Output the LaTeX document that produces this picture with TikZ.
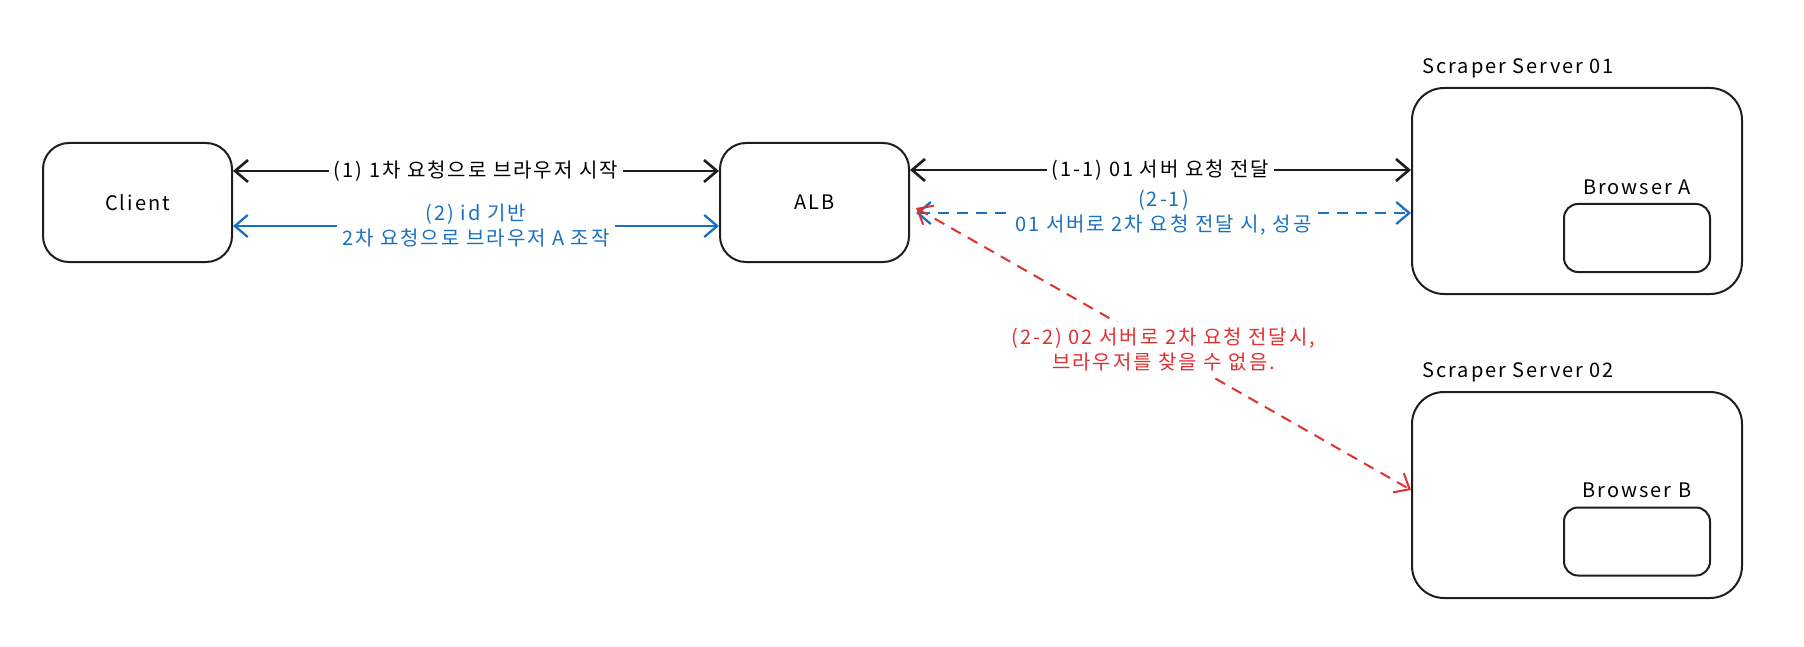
\documentclass[tikz,border=0pt]{standalone}
\usepackage{fontspec}
\setmainfont[LetterSpace=10]{Noto Sans CJK KR}
\usetikzlibrary{arrows.meta,positioning}
\definecolor{inkblack}{HTML}{1E1E1E}
\definecolor{inkblue}{HTML}{1971C2}
\definecolor{inkred}{HTML}{E03131}

\begin{document}
\begin{tikzpicture}[
  x=1pt, y=-1pt,
  font=\fontsize{20}{25}\selectfont,
  box/.style={rectangle, draw=inkblack, line width=2pt, rounded corners=26pt,
    minimum width=189pt, minimum height=119pt},
  server/.style={rectangle, draw=inkblack, line width=2pt, rounded corners=32pt,
    minimum width=330pt, minimum height=206pt},
  brwbox/.style={rectangle, draw=inkblack, line width=2pt, rounded corners=14pt,
    minimum width=146pt, minimum height=68pt},
  conn/.style={{Straight Barb[length=13pt,width=22pt]}-{Straight Barb[length=13pt,width=22pt]},
    line width=2.6pt, draw=inkblack},
  blueconn/.style={conn, line width=2.3pt, draw=inkblue},
  redconn/.style={conn, line width=2pt, draw=inkred},
  dashline/.style={dash pattern=on 11pt off 8pt},
  tag/.style={fill=white, inner sep=5pt, align=center},
]
  \useasboundingbox (0,0) rectangle (1804,647);

  \node[box] (client) at (137.5,202.5) {Client};
  \node[box, right=486pt of client] (alb) {ALB};

  \node[server] (srv1) at (1577,191) {};
  \node[server] (srv2) at (1577,495) {};
  \node[anchor=west] (srv1lbl) at ([xshift=8pt,yshift=19pt]srv1.north west) {Scraper Server 01};
  \node[anchor=west] (srv2lbl) at ([xshift=8pt,yshift=19pt]srv2.north west) {Scraper Server 02};

  \node[brwbox] (brwA) at ([xshift=60pt,yshift=-47pt]srv1.center) {};
  \node[brwbox] (brwB) at ([xshift=60pt,yshift=-46.5pt]srv2.center) {};
  \node[above=5pt of brwA] (brwAlbl) {Browser A};
  \node[above=5pt of brwB] (brwBlbl) {Browser B};

  % client <-> alb
  \draw[conn] ([yshift=31.5pt]client.east) -- node[tag] {(1) 1차 요청으로 브라우저 시작}
    ([yshift=31.5pt]alb.west);
  \draw[blueconn] ([yshift=-23.5pt]client.east) -- node[tag, text=inkblue]
    {(2) id 기반\\2차 요청으로 브라우저 A 조작} ([yshift=-23.5pt]alb.west);

  % alb <-> servers
  \draw[conn] ([yshift=32.5pt]alb.east) -- node[tag] {(1-1) 01 서버 요청 전달}
    ([yshift=21pt]srv1.west);
  \draw[blueconn, dashline] ([xshift=6pt,yshift=-10.5pt]alb.east) -- node[tag, text=inkblue]
    {(2-1)\\01 서버로 2차 요청 전달 시, 성공} ([yshift=-22pt]srv1.west);
  \draw[redconn, dashline] ([xshift=6pt,yshift=-5.5pt]alb.east) -- node[tag, text=inkred]
    {(2-2) 02 서버로 2차 요청 전달시,\\브라우저를 찾을 수 없음.} ([yshift=5pt]srv2.west);
\end{tikzpicture}
\end{document}
